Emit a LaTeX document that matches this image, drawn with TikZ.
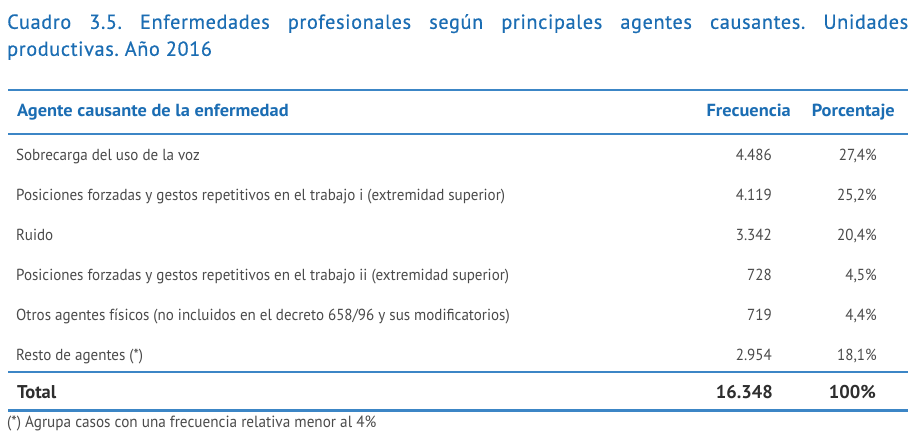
\documentclass[tikz,border=0pt]{standalone}
\usepackage{fontspec}
\setmainfont{PT Sans}[FakeStretch=0.94]
\newfontfamily\titlefont{PT Sans}
\newfontfamily\titlespaced{PT Sans}[LetterSpace=3,FakeBold=0.5]
\newfontfamily\headfont{PT Sans}[FakeStretch=1.05]
\definecolor{ttl}{HTML}{1B6DB3}
\definecolor{rulec}{HTML}{3C86C6}
\definecolor{txt}{HTML}{4A4A4A}
\definecolor{tot}{HTML}{2E2E2E}
\begin{document}
\begin{tikzpicture}[x=1pt,y=-1pt,
  cell/.style={inner sep=0pt, anchor=base west, text=txt, font=\fontsize{16}{19}\selectfont},
  num/.style={cell, anchor=base east},
  head/.style={inner sep=0pt, anchor=base west, text=ttl, font=\headfont\fontsize{17.5}{20}\selectfont\bfseries},
  headr/.style={head, anchor=base east},
  totl/.style={inner sep=0pt, anchor=base west, text=tot, font=\titlefont\fontsize{18.5}{21}\selectfont\bfseries},
  totr/.style={totl, anchor=base east},
  hrule/.style={draw=rulec, line width=2.6pt}
]
\useasboundingbox (0,0) rectangle (923,443);
% title
\node[inner sep=0pt, anchor=north west, text=ttl, align=justify, text width=901pt,
      font=\titlespaced\fontsize{20.3}{27}\selectfont\frenchspacing] (title) at (7,14)
  {Cuadro 3.5. Enfermedades profesionales según principales agentes causantes. Unidades\linebreak productivas. Año 2016};
% rules
\coordinate (r1a) at (8,90);   \coordinate (r1b) at (908,90);
\coordinate (r2a) at (8,134);  \coordinate (r2b) at (908,134);
\coordinate (r3a) at (8,372);  \coordinate (r3b) at (908,372);
\coordinate (r4a) at (8,410.5);\coordinate (r4b) at (908,410.5);
\draw[hrule] (r1a) -- (r1b);
\draw[hrule] (r2a) -- (r2b);
\draw[hrule] (r3a) -- (r3b);
\draw[hrule] (r4a) -- (r4b);
% header
\node[head]  (h1) at (17,117) {Agente causante de la enfermedad};
\node[headr] (h2) at (791,117) {Frecuencia};
\node[headr] (h3) at (895,117) {Porcentaje};
% rows
\node[cell] (a1) at (16,160.5) {Sobrecarga del uso de la voz};
\node[num]  (b1) at (772,160.5) {4.486};
\node[num]  (c1) at (877,160.5) {27,4\%};
\node[cell] (a2) at (16,200.5) {Posiciones forzadas y gestos repetitivos en el trabajo i (extremidad superior)};
\node[num]  (b2) at (772,200.5) {4.119};
\node[num]  (c2) at (877,200.5) {25,2\%};
\node[cell] (a3) at (16,240.5) {Ruido};
\node[num]  (b3) at (772,240.5) {3.342};
\node[num]  (c3) at (877,240.5) {20,4\%};
\node[cell] (a4) at (16,280.5) {Posiciones forzadas y gestos repetitivos en el trabajo ii (extremidad superior)};
\node[num]  (b4) at (772,280.5) {728};
\node[num]  (c4) at (877,280.5) {4,5\%};
\node[cell] (a5) at (16,320.5) {Otros agentes físicos (no incluidos en el decreto 658/96 y sus modificatorios)};
\node[num]  (b5) at (772,320.5) {719};
\node[num]  (c5) at (877,320.5) {4,4\%};
\node[cell] (a6) at (16,360.5) {Resto de agentes (*)};
\node[num]  (b6) at (772,360.5) {2.954};
\node[num]  (c6) at (877,360.5) {18,1\%};
% total
\node[totl] (t1) at (17,398) {Total};
\node[totr] (t2) at (773,398) {16.348};
\node[totr] (t3) at (876,398) {100\%};
% footnote
\node[cell, font=\fontsize{16.2}{19}\selectfont] (fn) at (7,427) {(*) Agrupa casos con una frecuencia relativa menor al 4\%};
\end{tikzpicture}
\end{document}
